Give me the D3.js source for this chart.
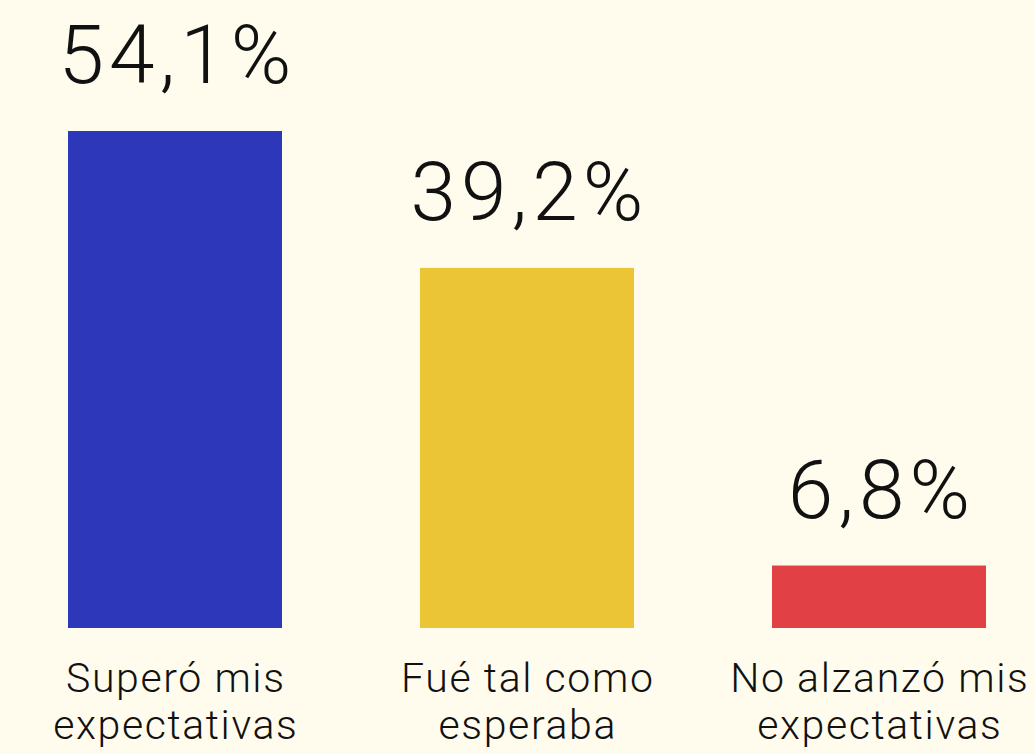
<!DOCTYPE html>
<html>
<head>
<meta charset="utf-8"/>
<title>Expectativas</title>
<script src="https://cdn.jsdelivr.net/npm/d3@7"></script>
<style>
html, body {
    margin: 0;
    padding: 0;
    background: #fffcee;
}
text {
    font-family: Roboto, "Liberation Sans", sans-serif;
    font-weight: 300;
    fill: #111;
}
</style>
</head>
<body>
<svg id="chart"></svg>
<script>

// Data.
var categories = ["Superó mis|expectativas", "Fué tal como|esperaba", "No alzanzó mis|expectativas"];
var values = [54.1, 39.2, 6.8];
var valueLabels = ["54,1%", "39,2%", "6,8%"];
var colors = ["#2c37b9", "#ecc537", "#e14144"];

const width = 1035;
const height = 754;
const baseline = 628;

var svg = d3.select("#chart")
    .attr("width", width)
    .attr("height", height);

svg.append("rect")
    .attr("width", width)
    .attr("height", height)
    .attr("fill", "#fffcee");

// Scales.
var x = d3.scaleBand()
    .domain(categories)
    .range([-1, 1055])
    .paddingInner(138 / 352)
    .paddingOuter(69 / 352);
var y = d3.scaleLinear()
    .domain([0, 54.1])
    .range([baseline, 131]);

// Bars.
svg.selectAll("rect.bar")
    .data(values)
    .enter().append("rect")
    .attr("class", "bar")
    .attr("x", (d, i) => x(categories[i]))
    .attr("y", d => y(d))
    .attr("width", x.bandwidth())
    .attr("height", d => y(0) - y(d))
    .attr("fill", (d, i) => colors[i]);

// Value labels above bars (letter-spacing widens Roboto toward Helvetica).
svg.selectAll("text.value")
    .data(values)
    .enter().append("text")
    .attr("class", "value")
    .attr("x", (d, i) => x(categories[i]) + x.bandwidth() / 2 + 2.5)
    .attr("y", d => y(d) - 48)
    .attr("text-anchor", "middle")
    .style("font-size", "82px")
    .style("letter-spacing", "5px")
    .text((d, i) => valueLabels[i]);

// Category labels, two lines each.
var cats = svg.selectAll("text.cat")
    .data(categories)
    .enter().append("text")
    .attr("class", "cat")
    .attr("text-anchor", "middle")
    .style("font-size", "41px")
    .style("letter-spacing", "1.6px");
cats.selectAll("tspan")
    .data(d => d.split("|").map(s => ({s: s, c: d})))
    .enter().append("tspan")
    .attr("x", d => x(d.c) + x.bandwidth() / 2 + 0.8)
    .attr("y", (d, i) => 692 + i * 47)
    .text(d => d.s);

</script>
</body>
</html>
